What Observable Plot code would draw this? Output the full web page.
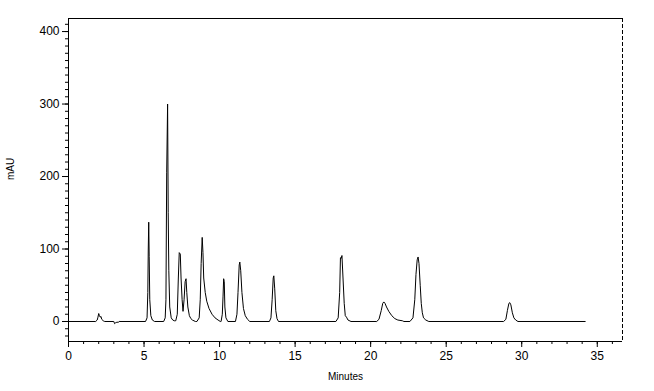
<!DOCTYPE html>
<html>
<head>
<meta charset="utf-8">
<script src="https://cdn.jsdelivr.net/npm/d3@7"></script>
<script src="https://cdn.jsdelivr.net/npm/@observablehq/plot@0.6"></script>
<style>
  html, body { margin: 0; padding: 0; background: #fff; }
  #chart svg { display: block; }
</style>
</head>
<body>
<div id="chart"></div>
<script>
// Retention time (minutes) and absorbance (mAU)
const minutes = [
  0.00, 1.80, 1.90, 1.95, 2.00, 2.05, 2.10, 2.15, 2.20, 2.30, 2.40,
  3.00, 3.05, 3.10, 3.20, 3.30, 3.35,
  5.10, 5.20, 5.25, 5.28, 5.31, 5.34, 5.38, 5.45, 5.55, 5.70,
  6.30, 6.40, 6.45, 6.50, 6.56, 6.60, 6.64, 6.70, 6.80, 6.90, 7.00,
  7.10, 7.20, 7.27, 7.33, 7.40, 7.45, 7.52, 7.58, 7.65, 7.72, 7.78, 7.83, 7.90, 8.00, 8.10, 8.20, 8.40,
  8.50, 8.65, 8.72, 8.78, 8.85, 8.90, 8.95, 9.05, 9.15, 9.30, 9.50, 9.70, 9.90, 10.05,
  10.10, 10.18, 10.23, 10.27, 10.31, 10.35, 10.42, 10.55,
  11.05, 11.15, 11.22, 11.30, 11.34, 11.40, 11.48, 11.58, 11.70, 11.85, 12.00,
  13.30, 13.40, 13.48, 13.55, 13.59, 13.65, 13.72, 13.80, 13.90,
  17.70, 17.85, 17.95, 18.00, 18.05, 18.10, 18.17, 18.25, 18.32, 18.40, 18.50, 18.70,
  20.40, 20.55, 20.70, 20.80, 20.87, 20.95, 21.05, 21.20, 21.40, 21.60, 21.80, 22.10, 22.20,
  22.60, 22.80, 22.92, 23.00, 23.08, 23.14, 23.20, 23.28, 23.35, 23.42, 23.50, 23.65, 23.85,
  28.80, 28.95, 29.05, 29.15, 29.21, 29.28, 29.38, 29.48, 29.60, 29.75,
  34.20
];
const mAU = [
  0, 0, 2, 6, 11, 8, 6, 7, 3, 1, 0,
  0, -3, -2, -1, -1, 0,
  0, 5, 40, 100, 137, 90, 30, 8, 2, 0,
  0, 5, 30, 206, 300, 150, 70, 20, 5, 2, 1,
  1, 10, 60, 95, 93, 60, 30, 14, 30, 55, 59, 40, 20, 8, 4, 2, 0,
  0, 5, 30, 80, 116, 95, 60, 40, 28, 18, 10, 5, 2, 0,
  0, 10, 35, 59, 55, 20, 5, 0,
  0, 10, 40, 78, 82, 70, 40, 18, 8, 3, 0,
  0, 5, 30, 60, 63, 45, 15, 4, 0,
  0, 5, 40, 88, 87, 91, 60, 25, 8, 6, 2, 0,
  0, 3, 15, 25, 27, 25, 20, 14, 8, 4, 2, 1, 0,
  0, 5, 30, 65, 85, 89, 80, 50, 25, 12, 5, 2, 0,
  0, 3, 15, 25, 26, 23, 12, 5, 2, 0,
  0
];
const xMajorTicks = [0, 5, 10, 15, 20, 25, 30, 35];
const yMajorTicks = [0, 100, 200, 300, 400];
const xDomain = [0, 36.67];
const yDomain = [-27.6, 418];

const data = minutes.map((t, i) => ({t, v: mAU[i]}));
const xMinor = d3.range(0, 37, 1);
const yMinor = d3.range(-20, 420, 10);

const font = "Liberation Sans, Arial, sans-serif";

const chart = Plot.plot({
  width: 654,
  height: 391,
  marginLeft: 68,
  marginRight: 32,
  marginTop: 18,
  marginBottom: 50,
  style: {fontFamily: font, background: "#fff", color: "#000"},
  x: {domain: xDomain},
  y: {domain: yDomain},
  marks: [
    // frame: top solid, right dashed
    Plot.ruleY([yDomain[1]], {stroke: "#000", strokeWidth: 1}),
    Plot.ruleX([xDomain[1]], {stroke: "#000", strokeWidth: 1, strokeDasharray: "4,2"}),
    // minor ticks
    Plot.axisX({ticks: xMinor, tickSize: 3, text: null, label: null, stroke: "#000"}),
    Plot.axisY({ticks: yMinor, tickSize: 3, text: null, label: null, stroke: "#000"}),
    // major ticks
    Plot.axisX({ticks: xMajorTicks, tickSize: 6, tickPadding: 4, fontSize: 12, label: null, stroke: "#000", fill: "#000"}),
    Plot.axisY({ticks: yMajorTicks, tickSize: 6, tickPadding: 3, fontSize: 12, label: null, stroke: "#000", fill: "#000"}),
    // axis lines
    Plot.ruleX([xDomain[0]], {stroke: "#000", strokeWidth: 1}),
    Plot.ruleY([yDomain[0]], {stroke: "#000", strokeWidth: 1}),
    // axis titles
    Plot.text(["mAU"], {frameAnchor: "left", dx: -58, rotate: -90, fontSize: 10, fill: "#000"}),
    Plot.text(["Minutes"], {frameAnchor: "bottom", dy: 38, fontSize: 10, fill: "#000"}),
    // chromatogram trace
    Plot.line(data, {x: "t", y: "v", stroke: "#000", strokeWidth: 1})
  ]
});
document.getElementById("chart").appendChild(chart);
</script>
</body>
</html>
